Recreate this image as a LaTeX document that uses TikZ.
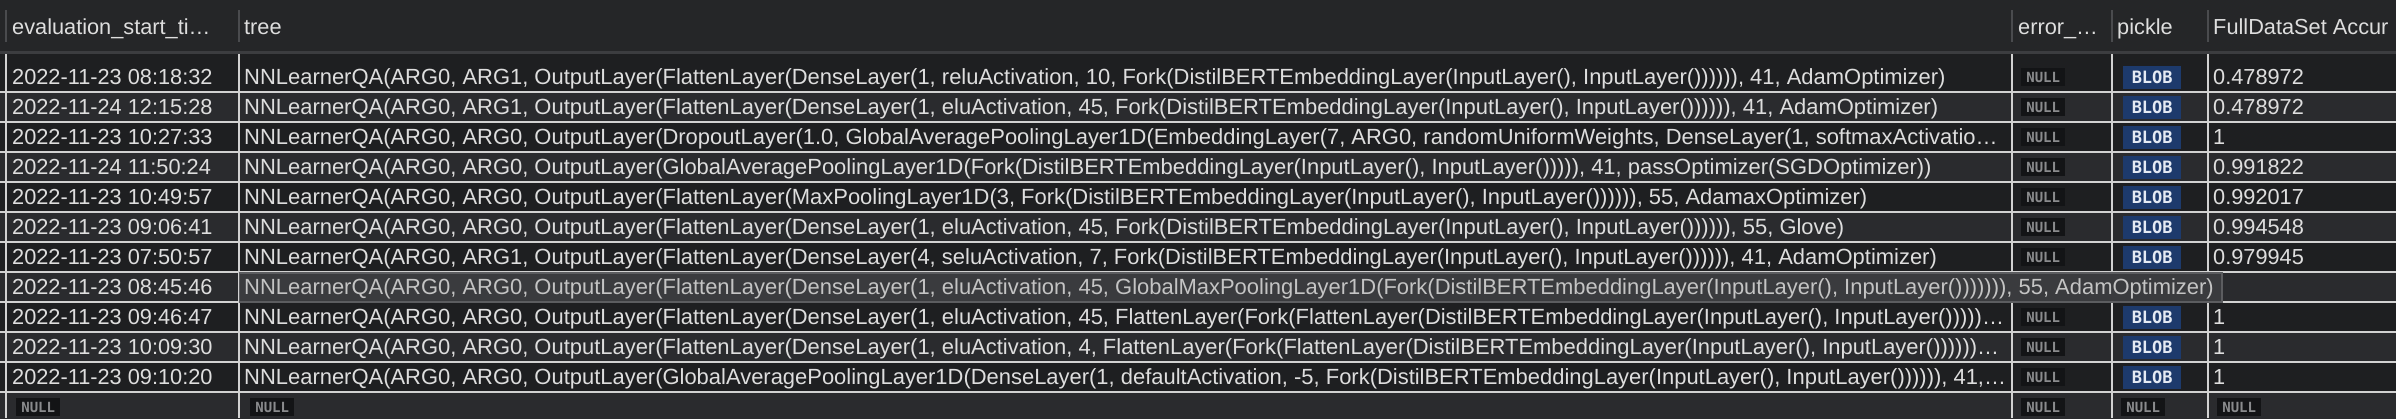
\documentclass[tikz,border=0pt]{standalone}
\usepackage{fontspec}
\setmainfont{Liberation Sans}
\newfontfamily\badgefont{DejaVu Sans Mono}
\definecolor{hdrbg}{HTML}{252628}
\definecolor{rowA}{HTML}{1E1F21}
\definecolor{rowB}{HTML}{2A2B2E}
\definecolor{gridc}{HTML}{D2D2D2}
\definecolor{hdrline}{HTML}{3C3D40}
\definecolor{hdrsep}{HTML}{4A4B4E}
\definecolor{txtc}{HTML}{DEDEDE}
\definecolor{nullbg}{HTML}{131416}
\definecolor{nulltx}{HTML}{8A8B8D}
\definecolor{blobbg}{HTML}{1D3A6C}
\definecolor{blobtx}{HTML}{E4EAF4}
\definecolor{ovbg}{HTML}{3A3B3E}
\definecolor{ovbd}{HTML}{5C5D60}
\definecolor{ovtx}{HTML}{C4C4C4}
\def\IL{InputLayer()}
\begin{document}
\begin{tikzpicture}[x=1pt,y=-1pt,
  txt/.style={anchor=base west, inner sep=0pt, text=txtc, font=\fontsize{21.75}{26}\selectfont},
  treetxt/.style={txt, font=\fontsize{21.95}{26}\selectfont},
  ovtxt/.style={treetxt, text=ovtx},
  nullb/.style={fill=nullbg, text=nulltx, inner sep=0pt, minimum width=44pt, minimum height=18pt, font=\badgefont\bfseries\fontsize{14}{14}\selectfont, anchor=west},
  blobb/.style={fill=blobbg, text=blobtx, inner sep=0pt, minimum width=58pt, minimum height=23pt, font=\badgefont\bfseries\fontsize{17}{17}\selectfont, anchor=west},
  gridl/.style={draw=gridc, line width=2pt},
  hsep/.style={draw=hdrsep, line width=2pt},
]
\useasboundingbox (0,0) rectangle (2396,418);
\clip (0,0) rectangle (2396,418);
% header
\fill[hdrbg] (0,0) rectangle (2396,54);
\fill[hdrline] (0,51) rectangle (2396,54);
\foreach \x in {6,239,2012,2112,2208} \draw[hsep] (\x,10) -- (\x,42);
% rows
\fill[rowA] (0,54) rectangle (2396,62);
\foreach \i/\c in {1/rowA,2/rowB,3/rowA,4/rowB,5/rowA,6/rowB,7/rowA,8/rowB,9/rowA,10/rowB,11/rowA,12/rowB}
  \fill[\c] (0,{62+30*(\i-1)}) rectangle (2396,{92+30*(\i-1)});
\fill[rowB] (0,392) rectangle (2396,418);
\foreach \k in {0,...,10} \draw[gridl] (0,{92+30*\k}) -- (2396,{92+30*\k});
\foreach \x in {6,239,2012,2112,2208} \draw[gridl] (\x,54) -- (\x,418);
% header texts
\node[txt] (h1) at (12,34) {evaluation\_start\_ti…};
\node[txt] (h2) at (244,34) {tree};
\node[txt] (h3) at (2018,34) {error\_…};
\node[txt] (h4) at (2117,34) {pickle};
\node[txt] (h5) at (2213,34) {FullDataSet Accur};
% time column
\node[txt] (t1) at (12,84.5) {2022-11-23 08:18:32};
\node[txt] (t2) at (12,114.5) {2022-11-24 12:15:28};
\node[txt] (t3) at (12,144.5) {2022-11-23 10:27:33};
\node[txt] (t4) at (12,174.5) {2022-11-24 11:50:24};
\node[txt] (t5) at (12,204.5) {2022-11-23 10:49:57};
\node[txt] (t6) at (12,234.5) {2022-11-23 09:06:41};
\node[txt] (t7) at (12,264.5) {2022-11-23 07:50:57};
\node[txt] (t8) at (12,294.5) {2022-11-23 08:45:46};
\node[txt] (t9) at (12,324.5) {2022-11-23 09:46:47};
\node[txt] (t10) at (12,354.5) {2022-11-23 10:09:30};
\node[txt] (t11) at (12,384.5) {2022-11-23 09:10:20};
% tree column
\node[treetxt] (r1) at (244,84.5) {NNLearnerQA(ARG0, ARG1, OutputLayer(FlattenLayer(DenseLayer(1, reluActivation, 10, Fork(DistilBERTEmbeddingLayer(\IL, \IL))))), 41, AdamOptimizer)};
\node[treetxt] (r2) at (244,114.5) {NNLearnerQA(ARG0, ARG1, OutputLayer(FlattenLayer(DenseLayer(1, eluActivation, 45, Fork(DistilBERTEmbeddingLayer(\IL, \IL))))), 41, AdamOptimizer)};
\node[treetxt] (r3) at (244,144.5) {NNLearnerQA(ARG0, ARG0, OutputLayer(DropoutLayer(1.0, GlobalAveragePoolingLayer1D(EmbeddingLayer(7, ARG0, randomUniformWeights, DenseLayer(1, softmaxActivatio…};
\node[treetxt] (r4) at (244,174.5) {NNLearnerQA(ARG0, ARG0, OutputLayer(GlobalAveragePoolingLayer1D(Fork(DistilBERTEmbeddingLayer(\IL, \IL)))), 41, passOptimizer(SGDOptimizer))};
\node[treetxt] (r5) at (244,204.5) {NNLearnerQA(ARG0, ARG0, OutputLayer(FlattenLayer(MaxPoolingLayer1D(3, Fork(DistilBERTEmbeddingLayer(\IL, \IL))))), 55, AdamaxOptimizer)};
\node[treetxt] (r6) at (244,234.5) {NNLearnerQA(ARG0, ARG0, OutputLayer(FlattenLayer(DenseLayer(1, eluActivation, 45, Fork(DistilBERTEmbeddingLayer(\IL, \IL))))), 55, Glove)};
\node[treetxt] (r7) at (244,264.5) {NNLearnerQA(ARG0, ARG1, OutputLayer(FlattenLayer(DenseLayer(4, seluActivation, 7, Fork(DistilBERTEmbeddingLayer(\IL, \IL))))), 41, AdamOptimizer)};
\node[treetxt] (r9) at (244,324.5) {NNLearnerQA(ARG0, ARG0, OutputLayer(FlattenLayer(DenseLayer(1, eluActivation, 45, FlattenLayer(Fork(FlattenLayer(DistilBERTEmbeddingLayer(\IL, \IL))))…};
\node[treetxt] (r10) at (244,354.5) {NNLearnerQA(ARG0, ARG0, OutputLayer(FlattenLayer(DenseLayer(1, eluActivation, 4, FlattenLayer(Fork(FlattenLayer(DistilBERTEmbeddingLayer(\IL, \IL)))))…};
\node[treetxt] (r11) at (244,384.5) {NNLearnerQA(ARG0, ARG0, OutputLayer(GlobalAveragePoolingLayer1D(DenseLayer(1, defaultActivation, -5, Fork(DistilBERTEmbeddingLayer(\IL, \IL))))), 41,…};
% error and pickle columns
\foreach \i in {1,...,7,9,10,11} {
  \node[nullb] (e\i) at (2021,{77+30*(\i-1)}) {NULL};
  \node[blobb] (p\i) at (2123,{77+30*(\i-1)}) {BLOB};
}
% accuracy column
\node[txt] (a1) at (2213,84.5) {0.478972};
\node[txt] (a2) at (2213,114.5) {0.478972};
\node[txt] (a3) at (2213,144.5) {1};
\node[txt] (a4) at (2213,174.5) {0.991822};
\node[txt] (a5) at (2213,204.5) {0.992017};
\node[txt] (a6) at (2213,234.5) {0.994548};
\node[txt] (a7) at (2213,264.5) {0.979945};
\node[txt] (a9) at (2213,324.5) {1};
\node[txt] (a10) at (2213,354.5) {1};
\node[txt] (a11) at (2213,384.5) {1};
% last row NULLs
\node[nullb] (n1) at (16,407) {NULL};
\node[nullb] (n2) at (250,407) {NULL};
\node[nullb] (n3) at (2021,407) {NULL};
\node[nullb] (n4) at (2121,407) {NULL};
\node[nullb] (n5) at (2217,407) {NULL};
% expanded cell of row 8
\draw[fill=ovbg, draw=ovbd, line width=1.5pt] (239.5,273) rectangle (2222,302);
\node[ovtxt] (r8) at (244,294.5) {NNLearnerQA(ARG0, ARG0, OutputLayer(FlattenLayer(DenseLayer(1, eluActivation, 45, GlobalMaxPoolingLayer1D(Fork(DistilBERTEmbeddingLayer(\IL, \IL)))))), 55, AdamOptimizer)};
\end{tikzpicture}
\end{document}
